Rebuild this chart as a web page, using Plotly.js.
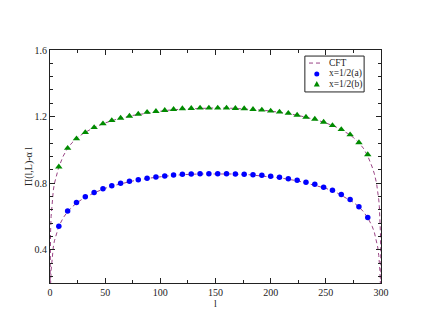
<!DOCTYPE html>
<html>
<head>
<meta charset="utf-8">
<script src="https://cdn.plot.ly/plotly-3.0.1.min.js"></script>
<style>
  html, body { margin: 0; padding: 0; background: #fff; }
  #plot { width: 430px; height: 332px; }
</style>
</head>
<body>
<div id="plot"></div>
<script>
// sampled l values of the data points
const ptL = [8, 16, 24, 32, 40, 48, 56, 64, 72, 80, 88, 96, 104, 112, 120, 128, 136, 144,
             152, 160, 168, 176, 184, 192, 200, 208, 216, 224, 232, 240, 248, 256, 264, 272, 280, 288];
const ptA = [0.541, 0.632, 0.684, 0.718, 0.744, 0.767, 0.785, 0.799, 0.811, 0.821, 0.829, 0.837,
             0.843, 0.849, 0.853, 0.855, 0.857, 0.857, 0.857, 0.857, 0.855, 0.853, 0.851, 0.847,
             0.841, 0.835, 0.827, 0.817, 0.805, 0.793, 0.775, 0.757, 0.732, 0.702, 0.658, 0.593];
const ptB = [0.898, 1.010, 1.067, 1.105, 1.135, 1.157, 1.177, 1.191, 1.203, 1.215, 1.226, 1.232,
             1.238, 1.244, 1.248, 1.250, 1.252, 1.252, 1.252, 1.252, 1.250, 1.248, 1.244, 1.240,
             1.234, 1.228, 1.220, 1.209, 1.197, 1.185, 1.167, 1.147, 1.123, 1.091, 1.044, 0.972];

// CFT curves (dashed)
const cftL = [0.05, 0.1, 0.2, 0.3, 0.5, 1, 1.5, 2, 3, 4, 6, 8, 12, 16, 20, 25, 30, 40, 50, 60,
              75, 90, 105, 120, 135, 150, 165, 180, 195, 210, 225, 240, 250, 260, 270, 275, 280,
              284, 288, 292, 294, 296, 297, 298, 298.5, 299, 299.5, 299.7, 299.8, 299.9, 299.95];
const cftA = [-0.105, -0.017, 0.071, 0.123, 0.188, 0.276, 0.328, 0.365, 0.416, 0.453, 0.504, 0.541,
              0.592, 0.629, 0.657, 0.685, 0.707, 0.742, 0.769, 0.789, 0.813, 0.830, 0.842, 0.851,
              0.855, 0.857, 0.855, 0.851, 0.842, 0.830, 0.813, 0.789, 0.769, 0.742, 0.707, 0.685,
              0.657, 0.629, 0.592, 0.541, 0.504, 0.453, 0.416, 0.365, 0.328, 0.276, 0.188, 0.123,
              0.071, -0.017, -0.105];
const cftB = [0.170, 0.271, 0.370, 0.428, 0.501, 0.600, 0.658, 0.699, 0.757, 0.798, 0.856, 0.897,
              0.963, 1.010, 1.043, 1.074, 1.098, 1.135, 1.162, 1.183, 1.207, 1.224, 1.237, 1.245,
              1.250, 1.252, 1.250, 1.245, 1.237, 1.224, 1.207, 1.183, 1.162, 1.135, 1.098, 1.074,
              1.043, 1.010, 0.963, 0.897, 0.856, 0.798, 0.757, 0.699, 0.658, 0.600, 0.501, 0.428,
              0.370, 0.271, 0.170];

const legendNames = ['CFT', 'x=1/2(a)', 'x=1/2(b)'];

const serif = 'Liberation Serif, Times New Roman, serif';
const cftColor = '#9a4485';
const blue = '#0000ff';
const green = '#008b00';
const ink = '#222';

const traceCFT = {
    x: [...cftL, null, ...cftL],
    y: [...cftA, null, ...cftB],
    name: legendNames[0],
    type: 'scatter',
    mode: 'lines',
    line: { color: cftColor, width: 1, dash: '4px,3px' },
    connectgaps: false
};

const traceA = {
    x: ptL,
    y: ptA,
    name: legendNames[1],
    type: 'scatter',
    mode: 'markers',
    marker: { symbol: 'circle', size: 5.5, color: blue }
};

const traceB = {
    x: ptL,
    y: ptB,
    name: legendNames[2],
    type: 'scatter',
    mode: 'markers',
    marker: { symbol: 'triangle-up', size: 6.5, color: green }
};

const axisCommon = {
    showgrid: false,
    zeroline: false,
    showline: true,
    linecolor: ink,
    linewidth: 1,
    mirror: 'allticks',
    ticks: 'inside',
    ticklen: 5,
    tickcolor: ink,
    tickfont: { family: serif, size: 10, color: ink }
};

// hand-made legend box (the built-in one is too tall for this frame)
const legX0 = 0.770, legX1 = 0.949, legY0 = 0.820, legY1 = 0.974;
const rowY = [0.944, 0.897, 0.854];
const symX = 0.806, textX = 0.838;

const legendShapes = [
    { type: 'rect', xref: 'paper', yref: 'paper', x0: legX0, x1: legX1, y0: legY0, y1: legY1,
      line: { color: ink, width: 1 }, fillcolor: '#fff', layer: 'above' },
    { type: 'line', xref: 'paper', yref: 'paper', x0: 0.7825, x1: 0.822, y0: rowY[0], y1: rowY[0],
      line: { color: cftColor, width: 1, dash: '4px,3px' }, layer: 'above' },
    { type: 'circle', xref: 'paper', yref: 'paper', xsizemode: 'pixel', ysizemode: 'pixel',
      xanchor: symX, yanchor: rowY[1], x0: -2.5, x1: 2.5, y0: -2.5, y1: 2.5,
      fillcolor: blue, line: { width: 0 }, layer: 'above' },
    { type: 'path', xref: 'paper', yref: 'paper', xsizemode: 'pixel', ysizemode: 'pixel',
      xanchor: symX, yanchor: rowY[2], path: 'M -3,-2.5 L 3,-2.5 L 0,3 Z',
      fillcolor: green, line: { width: 0 }, layer: 'above' }
];

const legendText = legendNames.map((name, i) => ({
    xref: 'paper', yref: 'paper', x: textX, y: rowY[i],
    xanchor: 'left', yanchor: 'middle', showarrow: false,
    text: name, font: { family: serif, size: 9.5, color: ink }
}));

const layout = {
    width: 430,
    height: 332,
    margin: { l: 50, r: 49, t: 50, b: 49 },
    paper_bgcolor: '#fff',
    plot_bgcolor: '#fff',
    showlegend: false,
    xaxis: Object.assign({}, axisCommon, {
        range: [0, 300],
        dtick: 50,
        tick0: 0,
        minor: { dtick: 25, ticks: 'inside', ticklen: 3, tickcolor: ink },
        title: { text: 'l', font: { family: serif, size: 10, color: ink }, standoff: 0 }
    }),
    yaxis: Object.assign({}, axisCommon, {
        range: [0.2, 1.6],
        dtick: 0.4,
        tick0: 0,
        tickformat: '.1f',
        minor: { dtick: 0.08, ticks: 'inside', ticklen: 3, tickcolor: ink },
        title: { text: 'Π(l,L)-α l', font: { family: serif, size: 10, color: ink }, standoff: 0 }
    }),
    shapes: legendShapes,
    annotations: legendText
};

Plotly.newPlot('plot', [traceCFT, traceA, traceB], layout, { displayModeBar: false, staticPlot: true });
</script>
</body>
</html>
